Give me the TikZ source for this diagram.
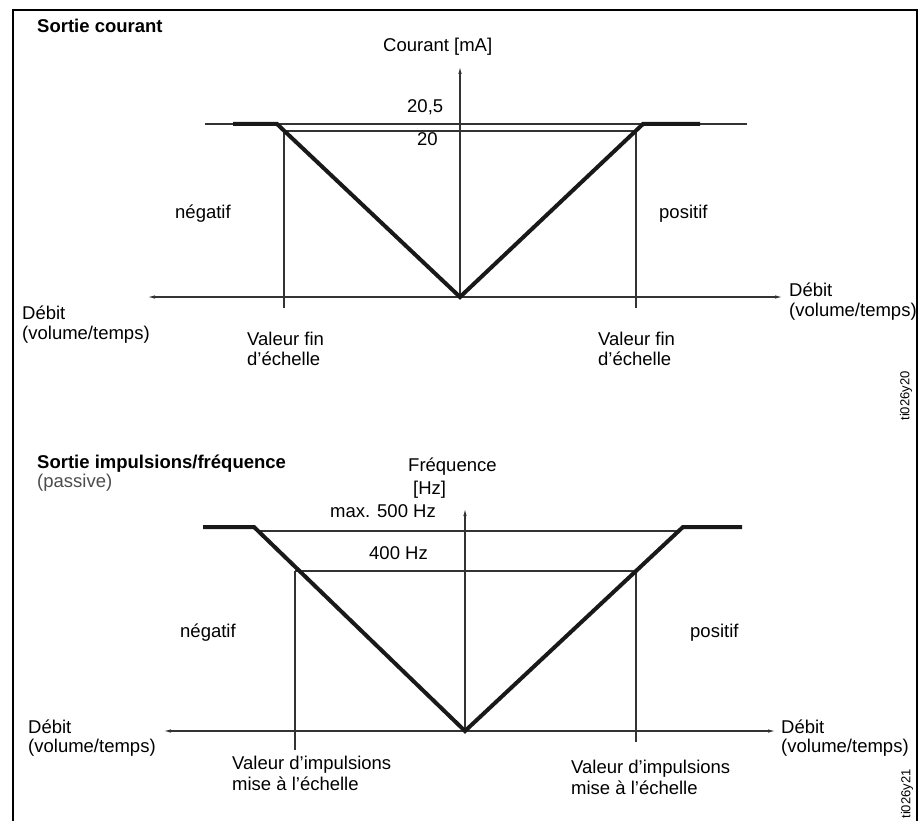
\documentclass[tikz,border=0pt]{standalone}
\usepackage{fontspec}
\setmainfont{Liberation Sans}
\usetikzlibrary{arrows.meta}
\begin{document}
\begin{tikzpicture}[x=1pt,y=-1pt,
  txt/.style={inner sep=0pt, anchor=base west, font=\fontsize{18.5}{21}\selectfont},
  ttl/.style={inner sep=0pt, anchor=base west, font=\fontsize{18.5}{21}\selectfont\bfseries},
  rtxt/.style={inner sep=0pt, anchor=base east, font=\fontsize{18.5}{21}\selectfont},
  idtxt/.style={inner sep=0pt, rotate=90, font=\fontsize{13}{15}\selectfont},
  axis/.style={line width=1.3pt, draw=black!80, -{Latex[length=8pt,width=3.5pt]}},
  thin/.style={line width=1.1pt, draw=black!80},
  curve/.style={line width=4pt, draw=black!90, line join=miter},
  frame/.style={line width=1.8pt, draw=black}]
\useasboundingbox (0,0) rectangle (921,821);
\draw[frame] (13,821) -- (13,10) -- (917,10) -- (917,821);

% ---------- top chart ----------
\coordinate (o1) at (460,297);
\coordinate (yt1) at (460,66);
\coordinate (xl1) at (147,297);
\coordinate (xr1) at (783,297);
\coordinate (h1a) at (205,124);
\coordinate (h1b) at (747,124);
\coordinate (h2a) at (284,131);
\coordinate (h2b) at (636,131);
\coordinate (v1b) at (284,308);
\coordinate (v2b) at (636,308);
\coordinate (c1) at (233,124);
\coordinate (c2) at (277,124);
\coordinate (c3) at (643,124);
\coordinate (c4) at (700,124);

\draw[axis] (o1) -- (yt1);
\draw[axis] (o1) -- (xl1);
\draw[axis] (o1) -- (xr1);
\draw[thin] (h1a) -- (h1b);
\draw[thin] (h2a) -- (h2b);
\draw[thin] (h2a) -- (v1b);
\draw[thin] (h2b) -- (v2b);
\draw[curve] (c1) -- (c2) -- (o1) -- (c3) -- (c4);

\node[ttl] (t1) at (37,33) {Sortie courant};
\node[txt] (ya1) at (383,52) {Courant [mA]};
\node[txt] (l205) at (407,113) {20,5};
\node[txt] (l20) at (417,146) {20};
\node[txt] (neg1) at (175,219) {négatif};
\node[txt] (pos1) at (659,219) {positif};
\node[txt] (dl1a) at (22,319) {Débit};
\node[txt] (dl1b) at (22,339) {(volume/temps)};
\node[txt] (dr1a) at (789,296) {Débit};
\node[txt] (dr1b) at (789,316) {(volume/temps)};
\node[txt] (vf1a) at (247,345) {Valeur fin};
\node[txt] (vf1b) at (247,365) {d’échelle};
\node[txt] (vf2a) at (598,345) {Valeur fin};
\node[txt] (vf2b) at (598,365) {d’échelle};
\node[idtxt] (id1) at (906,396) {ti026y20};

% ---------- bottom chart ----------
\coordinate (o2) at (465,731);
\coordinate (yt2) at (465,508);
\coordinate (xl2) at (163,731);
\coordinate (xr2) at (776,731);
\coordinate (m1a) at (258,531);
\coordinate (m1b) at (679,531);
\coordinate (m2a) at (295,571);
\coordinate (m2b) at (636,571);
\coordinate (w1b) at (295,750);
\coordinate (w2b) at (636,742);
\coordinate (d1) at (203,527);
\coordinate (d2) at (254,527);
\coordinate (d3) at (683,527);
\coordinate (d4) at (742,527);

\draw[axis] (o2) -- (yt2);
\draw[axis] (o2) -- (xl2);
\draw[axis] (o2) -- (xr2);
\draw[thin] (m1a) -- (m1b);
\draw[thin] (m2a) -- (m2b);
\draw[thin] (m2a) -- (w1b);
\draw[thin] (m2b) -- (w2b);
\draw[curve] (d1) -- (d2) -- (o2) -- (d3) -- (d4);

\node[ttl] (t2) at (37,468) {Sortie impulsions/fréquence};
\node[txt, text=black!70] (t2b) at (37,487) {(passive)};
\node[txt] (ya2a) at (408,471) {Fréquence};
\node[txt] (ya2b) at (413,494) {[Hz]};
\node[rtxt] (lmax) at (436,517) {max. 500 Hz};
\node[rtxt] (l400) at (428,559) {400 Hz};
\node[txt] (neg2) at (180,637) {négatif};
\node[txt] (pos2) at (690,637) {positif};
\node[txt] (dl2a) at (28,733) {Débit};
\node[txt] (dl2b) at (28,752) {(volume/temps)};
\node[txt] (dr2a) at (781,733) {Débit};
\node[txt] (dr2b) at (781,752) {(volume/temps)};
\node[txt] (vi1a) at (232,769) {Valeur d’impulsions};
\node[txt] (vi1b) at (232,790) {mise à l’échelle};
\node[txt] (vi2a) at (571,773) {Valeur d’impulsions};
\node[txt] (vi2b) at (571,794) {mise à l’échelle};
\node[idtxt] (id2) at (907,794) {ti026y21};
\end{tikzpicture}
\end{document}
